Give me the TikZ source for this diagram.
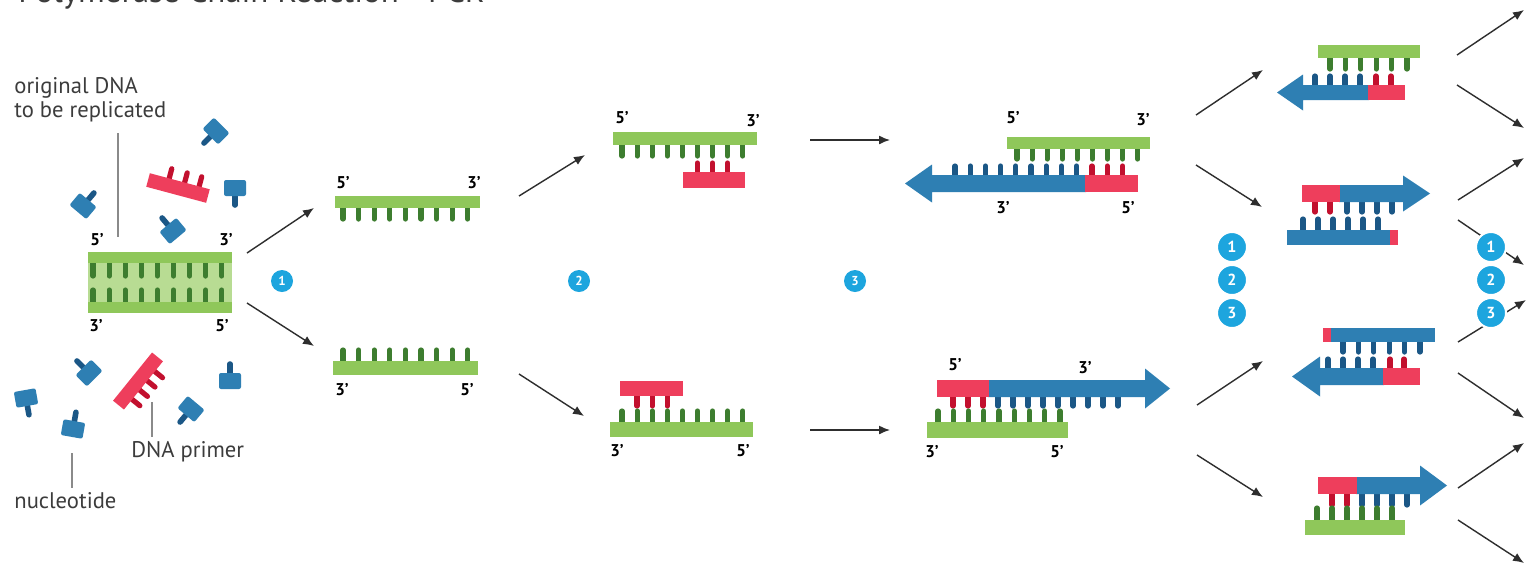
\documentclass[tikz,border=0pt]{standalone}
\usepackage{fontspec}
\usepackage{graphicx}
\setmainfont{PT Sans}
\usetikzlibrary{arrows.meta}

\definecolor{strandgreen}{HTML}{8FC75A}
\definecolor{duplexfill}{HTML}{B8DC93}
\definecolor{toothgreen}{HTML}{3D7D2F}
\definecolor{strandblue}{HTML}{2E7FB3}
\definecolor{toothblue}{HTML}{1B5786}
\definecolor{strandred}{HTML}{EE3E5C}
\definecolor{toothred}{HTML}{C2102E}
\definecolor{stepcyan}{HTML}{1DA5DE}
\definecolor{labelgray}{HTML}{3C3C3C}
\definecolor{leadergray}{HTML}{8A8A8A}
\definecolor{arrowgray}{HTML}{2E2E2E}

\tikzset{
  gt/.style={toothgreen, line width=2.6pt, line cap=round},
  bt/.style={toothblue, line width=2.6pt, line cap=round},
  rt/.style={toothred, line width=2.6pt, line cap=round},
  endlabel/.style={font=\bfseries\fontsize{8.5}{9}\selectfont, text=black, inner sep=0pt},
  caption/.style={font=\fontsize{11.3}{13}\selectfont, text=labelgray, inner sep=0pt, anchor=base west},
  leader/.style={leadergray, line width=0.8pt},
  conn/.style={arrowgray, line width=0.7pt, -{Latex[length=5.5pt,width=4.5pt]}},
  stepnum/.style={circle, fill=stepcyan, text=white, inner sep=0pt, minimum size=11pt,
    font=\bfseries\fontsize{6.5}{6.5}\selectfont},
  cyclenum/.style={circle, fill=stepcyan, draw=white, line width=1pt, text=white, inner sep=0pt,
    minimum size=15pt, font=\bfseries\fontsize{8}{8}\selectfont},
}

% a row of bases: style, first x, spacing, count, y from, y to
\newcommand\dnateeth[6]{%
  \foreach \k in {1,...,#4}{\draw[#1] ({#2+(\k-1)*(#3)},#5) -- ({#2+(\k-1)*(#3)},#6);}}

% free nucleotide: x, y, rotation
\newcommand\nucleotide[3]{%
  \begin{scope}[shift={(#1,#2)},rotate=#3]
    \draw[toothblue, line width=2.8pt, line cap=round] (0,4) -- (0,17);
    \fill[strandblue, rounded corners=1pt] (-11,-8) rectangle (11,8);
  \end{scope}}

% free primer: x, y, rotation, tooth positions
\newcommand\primerpiece[4]{%
  \begin{scope}[shift={(#1,#2)},rotate=#3]
    \foreach \t in {#4} \draw[rt] (\t,-4) -- (\t,-17);
    \fill[strandred] (-31,-7) rectangle (31,7);
  \end{scope}}

% new strand growing to the left: tip x, head base x, right end x, top y, bottom y, head half height
\newcommand\growleft[6]{%
  \fill[strandblue] (#3,#4) -- (#2,#4) -- (#2,{(#4+#5)/2-#6}) -- (#1,{(#4+#5)/2})
    -- (#2,{(#4+#5)/2+#6}) -- (#2,#5) -- (#3,#5) -- cycle;}
% new strand growing to the right: tip x, head base x, left end x, top y, bottom y, head half height
\newcommand\growright[6]{%
  \fill[strandblue] (#3,#4) -- (#2,#4) -- (#2,{(#4+#5)/2-#6}) -- (#1,{(#4+#5)/2})
    -- (#2,{(#4+#5)/2+#6}) -- (#2,#5) -- (#3,#5) -- cycle;}

\begin{document}
\begin{tikzpicture}[x=0.5pt,y=-0.5pt]
\clip (0,0) rectangle (1530,569);
\fill[white] (0,0) rectangle (1530,569);

% heading, mostly above the top edge
\node[anchor=base west, inner sep=0pt, text=labelgray] (title) at (18,2)
  {\resizebox{233pt}{!}{\fontsize{17}{17}\selectfont Polymerase Chain Reaction - PCR}};

% ---------------- starting mixture ----------------
\node[caption] (origA) at (14,93) {original DNA};
\node[caption] (origB) at (14,117) {to be replicated};
\coordinate (origtop) at (118,133);
\coordinate (origbot) at (118,237);
\draw[leader] (origtop) -- (origbot);

\fill[duplexfill] (88,256) rectangle (232,309);
\dnateeth{gt}{93}{16.1}{9}{262}{276}
\dnateeth{gt}{93}{16.1}{9}{304}{290}
\fill[strandgreen] (88,252) rectangle (232,263);
\fill[strandgreen] (88,302) rectangle (232,313);
\node[endlabel] (d5a) at (97,240) {5'};
\node[endlabel] (d3a) at (226,240) {3'};
\node[endlabel] (d3b) at (96,326) {3'};
\node[endlabel] (d5b) at (222,326) {5'};

\nucleotide{216}{131}{-45}
\nucleotide{235}{188}{0}
\nucleotide{83}{206}{140}
\nucleotide{173}{231}{-140}
\nucleotide{89}{373}{-135}
\nucleotide{26}{398}{10}
\nucleotide{73}{429}{170}
\nucleotide{191}{409}{-40}
\nucleotide{230}{381}{180}

\primerpiece{178}{188}{-15}{-11,5,20}
\primerpiece{138}{381}{-129}{-18,-6,6,18}

\node[caption] (primerlbl) at (131,457) {DNA primer};
\coordinate (primtop) at (152,402);
\coordinate (primbot) at (152,437);
\draw[leader] (primtop) -- (primbot);
\node[caption] (nuclbl) at (14,508) {nucleotide};
\coordinate (nuctop) at (72,453);
\coordinate (nucbot) at (72,488);
\draw[leader] (nuctop) -- (nucbot);

% ---------------- step 1: denaturation ----------------
\node[stepnum] (s1) at (282,281) {1};
\dnateeth{gt}{343}{15.6}{9}{205}{219}
\fill[strandgreen] (335,196) rectangle (480,208);
\node[endlabel] (a5) at (343,183) {5'};
\node[endlabel] (a3) at (474,183) {3'};
\dnateeth{gt}{343}{15.6}{9}{364}{350}
\fill[strandgreen] (333,361) rectangle (478,375);
\node[endlabel] (b3) at (342,390) {3'};
\node[endlabel] (b5) at (467,390) {5'};

% ---------------- step 2: annealing ----------------
\node[stepnum] (s2) at (579,281) {2};
\dnateeth{gt}{622}{15.1}{9}{143}{156}
\fill[strandgreen] (613,132) rectangle (757,145);
\dnateeth{rt}{697.4}{15.1}{3}{174}{163}
\fill[strandred] (683,172) rectangle (745,188);
\node[endlabel] (c5) at (622,118) {5'};
\node[endlabel] (c3) at (753,121) {3'};

\dnateeth{rt}{637}{15.1}{3}{393}{406}
\fill[strandred] (620,381) rectangle (683,396);
\dnateeth{gt}{622}{15.1}{9}{424}{411}
\fill[strandgreen] (610,422) rectangle (753,437);
\node[endlabel] (e3) at (617,451) {3'};
\node[endlabel] (e5) at (743,451) {5'};

% ---------------- step 3: extension ----------------
\node[stepnum] (s3) at (855,281) {3};
\dnateeth{gt}{1017}{15.1}{9}{146}{159}
\fill[strandgreen] (1007,137) rectangle (1150,149);
\dnateeth{bt}{955}{15.2}{9}{178}{166}
\dnateeth{rt}{1092}{15.3}{3}{178}{166}
\growleft{905}{932}{1086}{175}{192}{19}
\fill[strandred] (1085,175) rectangle (1138,192);
\node[endlabel] (f5) at (1013,118) {5'};
\node[endlabel] (f3) at (1143,120) {3'};
\node[endlabel] (g3) at (1003,208) {3'};
\node[endlabel] (g5) at (1128,208) {5'};

\dnateeth{rt}{953}{15}{3}{394}{406}
\dnateeth{bt}{998}{15}{9}{394}{406}
\growright{1170}{1145}{988}{380}{397}{20}
\fill[strandred] (937,380) rectangle (989,397);
\dnateeth{gt}{938}{15.25}{9}{424}{411}
\fill[strandgreen] (927,422) rectangle (1068,438);
\node[endlabel] (h5) at (955,365) {5'};
\node[endlabel] (h3) at (1085,368) {3'};
\node[endlabel] (i3) at (932,452) {3'};
\node[endlabel] (i5) at (1057,452) {5'};

% ---------------- next cycle ----------------
\node[cyclenum] (L1) at (1232,247) {1};
\node[cyclenum] (L2) at (1232,280) {2};
\node[cyclenum] (L3) at (1232,313) {3};

% copy A
\dnateeth{gt}{1330}{15.4}{6}{56}{69}
\fill[strandgreen] (1318,45) rectangle (1420,58);
\dnateeth{bt}{1315}{15}{4}{88}{76}
\dnateeth{rt}{1376}{15}{2}{88}{76}
\growleft{1277}{1303}{1369}{85}{100}{18}
\fill[strandred] (1368,85) rectangle (1405,100);

% copy B
\dnateeth{rt}{1315}{15}{2}{199}{212}
\dnateeth{bt}{1347}{15}{4}{199}{212}
\growright{1430}{1403}{1339}{185}{202}{18}
\fill[strandred] (1302,185) rectangle (1340,202);
\dnateeth{bt}{1303}{15}{6}{233}{219}
\fill[strandblue] (1287,230) rectangle (1391,245);
\fill[strandred] (1390,230) rectangle (1398,245);

% copy C
\dnateeth{bt}{1343}{15.4}{6}{340}{352}
\fill[strandblue] (1331,328) rectangle (1435,342);
\fill[strandred] (1323,328) rectangle (1331,342);
\dnateeth{bt}{1328}{15}{4}{371}{359}
\dnateeth{rt}{1390}{14}{2}{371}{359}
\growleft{1292}{1320}{1384}{368}{385}{20}
\fill[strandred] (1383,368) rectangle (1420,385);

% copy D
\dnateeth{rt}{1332}{15}{2}{491}{505}
\dnateeth{bt}{1362}{15}{4}{491}{505}
\growright{1447}{1420}{1356}{477}{494}{20}
\fill[strandred] (1318,477) rectangle (1357,494);
\dnateeth{gt}{1317}{15}{6}{522}{508}
\fill[strandgreen] (1305,520) rectangle (1405,535);

% ---------------- connectors ----------------
\coordinate (o1) at (247,253);  \coordinate (t1) at (314,208);
\coordinate (o2) at (247,303);  \coordinate (t2) at (314,346);
\coordinate (o3) at (519,196);  \coordinate (t3) at (585,155);
\coordinate (o4) at (519,374);  \coordinate (t4) at (584,416);
\coordinate (o5) at (810,140);  \coordinate (t5) at (890,140);
\coordinate (o6) at (810,430);  \coordinate (t6) at (890,430);
\coordinate (o7) at (1196,115); \coordinate (t7) at (1263,70);
\coordinate (o8) at (1196,165); \coordinate (t8) at (1262,207);
\coordinate (o9) at (1197,405); \coordinate (t9) at (1263,361);
\coordinate (o10) at (1197,455); \coordinate (t10) at (1263,497);
\coordinate (o11) at (1457,55);  \coordinate (t11) at (1524,10);
\coordinate (o12) at (1457,85);  \coordinate (t12) at (1524,128);
\coordinate (o13) at (1458,200); \coordinate (t13) at (1524,158);
\coordinate (o14) at (1458,220); \coordinate (t14) at (1524,265);
\coordinate (o15) at (1458,342); \coordinate (t15) at (1526,300);
\coordinate (o16) at (1458,373); \coordinate (t16) at (1524,418);
\coordinate (o17) at (1458,488); \coordinate (t17) at (1524,443);
\coordinate (o18) at (1458,520); \coordinate (t18) at (1524,563);
\foreach \n in {1,...,18} \draw[conn] (o\n) -- (t\n);

% counters of the following cycle sit over the connectors
\node[cyclenum] (R1) at (1491,247) {1};
\node[cyclenum] (R2) at (1491,280) {2};
\node[cyclenum] (R3) at (1491,313) {3};
\end{tikzpicture}
\end{document}
